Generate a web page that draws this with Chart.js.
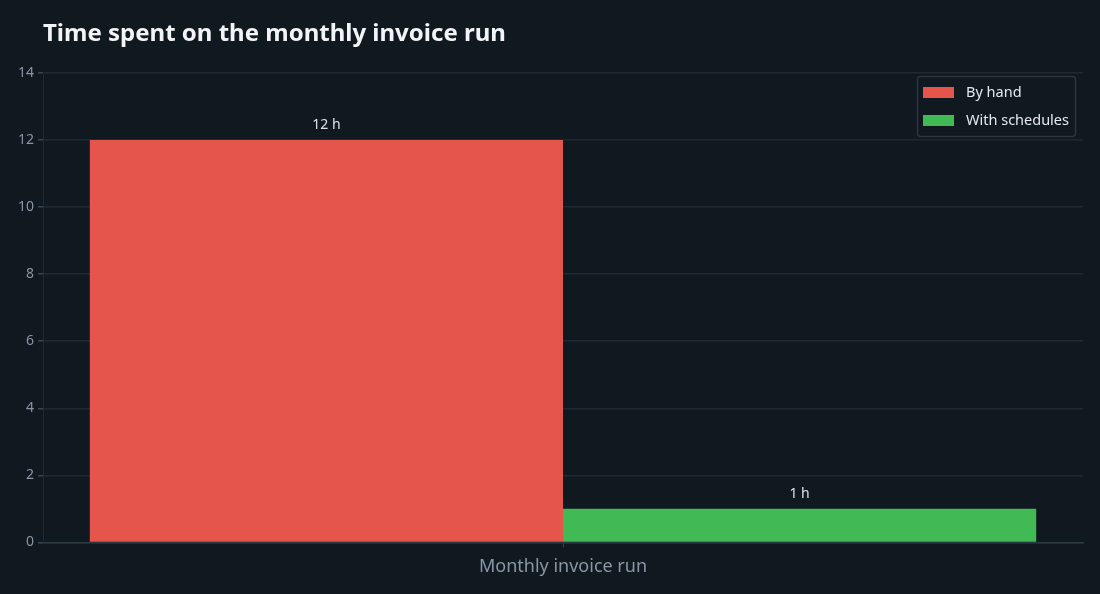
<!DOCTYPE html>
<html>
<head>
<meta charset="utf-8">
<script src="https://cdn.jsdelivr.net/npm/chart.js@4"></script>
<style>
  html, body { margin: 0; padding: 0; background: #101820; }
  #wrap { width: 1100px; height: 594px; position: relative; }
</style>
</head>
<body>
<div id="wrap"><canvas id="invoiceChart"></canvas></div>
<script>
// data
var categories = ["Monthly invoice run"];
var seriesNames = ["By hand", "With schedules"];
var byHand = [12];
var withSchedules = [1];
var seriesColors = ["#e5554b", "#41b955"];
var yTicks = [0, 2, 4, 6, 8, 10, 12, 14];

var FONT = "'Noto Sans', 'Open Sans', sans-serif";

// title drawn at the chart area's left edge
var titlePlugin = {
    id: 'leftTitle',
    afterDraw: function (chart) {
        var ctx = chart.ctx;
        ctx.save();
        ctx.fillStyle = '#f2f4f7';
        ctx.font = "bold 24px " + FONT;
        ctx.textAlign = 'left';
        ctx.textBaseline = 'middle';
        ctx.fillText("Time spent on the monthly invoice run", chart.chartArea.left, 34);
        ctx.restore();
    }
};

// "12 h" labels above each bar
var valueLabels = {
    id: 'valueLabels',
    afterDatasetsDraw: function (chart) {
        var ctx = chart.ctx;
        ctx.save();
        ctx.fillStyle = '#dde2e8';
        ctx.font = "14px " + FONT;
        ctx.textAlign = 'center';
        ctx.textBaseline = 'bottom';
        chart.data.datasets.forEach(function (ds, i) {
            chart.getDatasetMeta(i).data.forEach(function (bar, j) {
                ctx.fillText(ds.data[j] + " h", bar.x, bar.y - 8);
            });
        });
        ctx.restore();
    }
};

// boxed legend inside the plot, top right
var boxLegend = {
    id: 'boxLegend',
    afterDraw: function (chart) {
        var ctx = chart.ctx;
        var area = chart.chartArea;
        var w = 158, h = 60;
        var x = area.right - 8 - w, y = area.top + 3;
        ctx.save();
        ctx.fillStyle = '#101820';
        ctx.strokeStyle = '#2a3540';
        ctx.lineWidth = 1.5;
        ctx.beginPath();
        if (ctx.roundRect) ctx.roundRect(x + 0.5, y + 0.5, w, h, 3); else ctx.rect(x + 0.5, y + 0.5, w, h);
        ctx.fill();
        ctx.stroke();
        ctx.font = "14.5px " + FONT;
        ctx.textBaseline = 'middle';
        chart.data.datasets.forEach(function (ds, i) {
            var cy = y + 16 + i * 28;
            ctx.fillStyle = ds.backgroundColor;
            ctx.fillRect(x + 6, cy - 5, 31, 11);
            ctx.fillStyle = '#e6e9ee';
            ctx.fillText(ds.label, x + 49, cy + 1);
        });
        ctx.restore();
    }
};

var ctx = document.getElementById('invoiceChart').getContext('2d');
new Chart(ctx, {
    type: 'bar',
    data: {
        labels: categories,
        datasets: [
            { label: seriesNames[0], data: byHand, backgroundColor: seriesColors[0] },
            { label: seriesNames[1], data: withSchedules, backgroundColor: seriesColors[1] }
        ]
    },
    options: {
        responsive: true,
        maintainAspectRatio: false,
        animation: false,
        devicePixelRatio: 1,
        layout: { padding: { top: 73, right: 17, left: 14, bottom: 7 } },
        categoryPercentage: 0.91,
        barPercentage: 1,
        plugins: {
            legend: { display: false },
            title: { display: false },
            tooltip: { enabled: false }
        },
        scales: {
            x: {
                grid: { display: true, drawOnChartArea: false, offset: false, color: '#3a4650', tickLength: 5 },
                border: { color: '#2c3a44', width: 1.5 },
                ticks: { color: '#8897a5', font: { family: FONT, size: 18 }, padding: 9 }
            },
            y: {
                min: 0,
                max: 14,
                afterBuildTicks: function (axis) {
                    axis.ticks = yTicks.map(function (v) { return { value: v }; });
                },
                grid: { color: '#1d2a33', lineWidth: 1.5, tickLength: 5, tickColor: '#3a4650' },
                border: { color: '#1d2a33' },
                ticks: { color: '#8897a5', font: { family: FONT, size: 14 }, padding: 4 }
            }
        }
    },
    plugins: [titlePlugin, valueLabels, boxLegend]
});
</script>
</body>
</html>
